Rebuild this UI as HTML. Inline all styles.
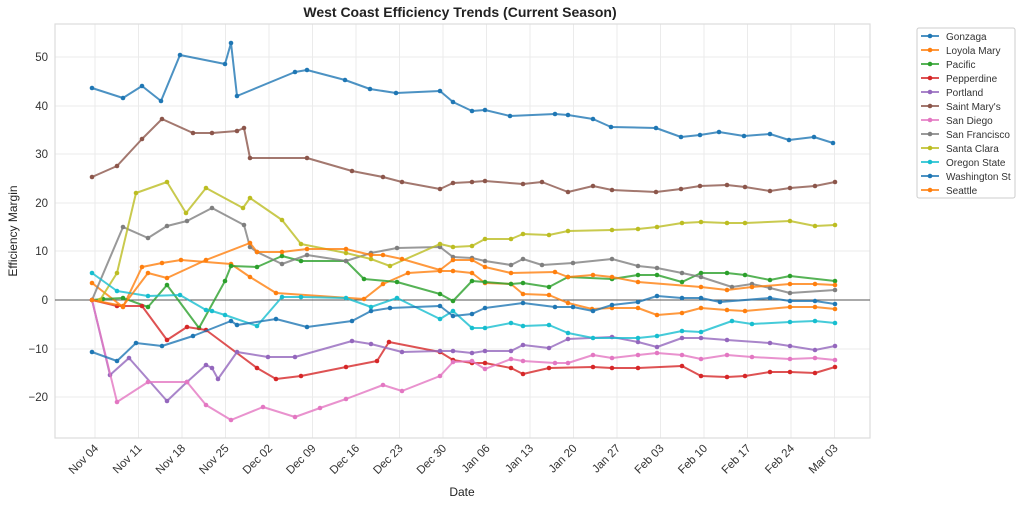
<!DOCTYPE html>
<html><head><meta charset="utf-8"><style>body{margin:0;background:#fff}svg{display:block;font-family:"Liberation Sans","DejaVu Sans",sans-serif}</style></head><body>
<svg width="1024" height="506" viewBox="0 0 1024 506" xmlns="http://www.w3.org/2000/svg">
<defs>
<marker id="m0" markerUnits="userSpaceOnUse" markerWidth="6" markerHeight="6" refX="3" refY="3"><circle cx="3" cy="3" r="2.3" fill="#1f77b4"/></marker>
<marker id="m1" markerUnits="userSpaceOnUse" markerWidth="6" markerHeight="6" refX="3" refY="3"><circle cx="3" cy="3" r="2.3" fill="#ff7f0e"/></marker>
<marker id="m2" markerUnits="userSpaceOnUse" markerWidth="6" markerHeight="6" refX="3" refY="3"><circle cx="3" cy="3" r="2.3" fill="#2ca02c"/></marker>
<marker id="m3" markerUnits="userSpaceOnUse" markerWidth="6" markerHeight="6" refX="3" refY="3"><circle cx="3" cy="3" r="2.3" fill="#d62728"/></marker>
<marker id="m4" markerUnits="userSpaceOnUse" markerWidth="6" markerHeight="6" refX="3" refY="3"><circle cx="3" cy="3" r="2.3" fill="#9467bd"/></marker>
<marker id="m5" markerUnits="userSpaceOnUse" markerWidth="6" markerHeight="6" refX="3" refY="3"><circle cx="3" cy="3" r="2.3" fill="#8c564b"/></marker>
<marker id="m6" markerUnits="userSpaceOnUse" markerWidth="6" markerHeight="6" refX="3" refY="3"><circle cx="3" cy="3" r="2.3" fill="#e377c2"/></marker>
<marker id="m7" markerUnits="userSpaceOnUse" markerWidth="6" markerHeight="6" refX="3" refY="3"><circle cx="3" cy="3" r="2.3" fill="#7f7f7f"/></marker>
<marker id="m8" markerUnits="userSpaceOnUse" markerWidth="6" markerHeight="6" refX="3" refY="3"><circle cx="3" cy="3" r="2.3" fill="#bcbd22"/></marker>
<marker id="m9" markerUnits="userSpaceOnUse" markerWidth="6" markerHeight="6" refX="3" refY="3"><circle cx="3" cy="3" r="2.3" fill="#17becf"/></marker>
</defs>
<rect width="1024" height="506" fill="#fff"/>
<text x="460" y="17" text-anchor="middle" font-size="14" font-weight="bold" fill="#222">West Coast Efficiency Trends (Current Season)</text>
<g stroke="#ebebeb" stroke-width="1">
<line x1="95" y1="24" x2="95" y2="438"/><line x1="138.5" y1="24" x2="138.5" y2="438"/><line x1="182" y1="24" x2="182" y2="438"/><line x1="225.5" y1="24" x2="225.5" y2="438"/><line x1="269" y1="24" x2="269" y2="438"/><line x1="312.5" y1="24" x2="312.5" y2="438"/><line x1="356" y1="24" x2="356" y2="438"/><line x1="399.5" y1="24" x2="399.5" y2="438"/><line x1="443" y1="24" x2="443" y2="438"/><line x1="486.5" y1="24" x2="486.5" y2="438"/><line x1="530" y1="24" x2="530" y2="438"/><line x1="573.5" y1="24" x2="573.5" y2="438"/><line x1="617" y1="24" x2="617" y2="438"/><line x1="660.5" y1="24" x2="660.5" y2="438"/><line x1="704" y1="24" x2="704" y2="438"/><line x1="747.5" y1="24" x2="747.5" y2="438"/><line x1="791" y1="24" x2="791" y2="438"/><line x1="834.5" y1="24" x2="834.5" y2="438"/>
<line x1="55" y1="57" x2="870" y2="57"/><line x1="55" y1="106" x2="870" y2="106"/><line x1="55" y1="154" x2="870" y2="154"/><line x1="55" y1="203" x2="870" y2="203"/><line x1="55" y1="251" x2="870" y2="251"/><line x1="55" y1="349" x2="870" y2="349"/><line x1="55" y1="397" x2="870" y2="397"/>
</g>
<rect x="55" y="24" width="815" height="414" fill="none" stroke="#ddd" stroke-width="1.2"/>
<line x1="55" y1="300" x2="870" y2="300" stroke="#555" stroke-width="1"/>
<g font-size="11.5" fill="#333" text-anchor="end">
<text x="48" y="61">50</text><text x="48" y="110">40</text><text x="48" y="158">30</text><text x="48" y="207">20</text><text x="48" y="255">10</text><text x="48" y="304">0</text><text x="48" y="353">−10</text><text x="48" y="401">−20</text>
</g>
<g font-size="11.5" fill="#333" text-anchor="end">
<text transform="translate(99,449) rotate(-45)">Nov 04</text><text transform="translate(142.5,449) rotate(-45)">Nov 11</text><text transform="translate(186,449) rotate(-45)">Nov 18</text><text transform="translate(229.5,449) rotate(-45)">Nov 25</text><text transform="translate(273,449) rotate(-45)">Dec 02</text><text transform="translate(316.5,449) rotate(-45)">Dec 09</text><text transform="translate(360,449) rotate(-45)">Dec 16</text><text transform="translate(403.5,449) rotate(-45)">Dec 23</text><text transform="translate(447,449) rotate(-45)">Dec 30</text><text transform="translate(490.5,449) rotate(-45)">Jan 06</text><text transform="translate(534,449) rotate(-45)">Jan 13</text><text transform="translate(577.5,449) rotate(-45)">Jan 20</text><text transform="translate(621,449) rotate(-45)">Jan 27</text><text transform="translate(664.5,449) rotate(-45)">Feb 03</text><text transform="translate(708,449) rotate(-45)">Feb 10</text><text transform="translate(751.5,449) rotate(-45)">Feb 17</text><text transform="translate(795,449) rotate(-45)">Feb 24</text><text transform="translate(838.5,449) rotate(-45)">Mar 03</text>
</g>
<text x="462" y="496" text-anchor="middle" font-size="12" fill="#222">Date</text>
<text transform="translate(17,231) rotate(-90)" text-anchor="middle" font-size="12" fill="#222">Efficiency Margin</text>
<g fill="none" stroke-width="2" stroke-opacity="0.8" stroke-linejoin="round">
<polyline style="marker:url(#m0)" stroke="#1f77b4" points="92,88 123,98 142,86 161,101 180,55 225,64 231,43 237,96 295,72 307,70 345,80 370,89 396,93 440,91 453,102 472,111 485,110 510,116 555,114 568,115 593,119 611,127 656,128 681,137 700,135 719,132 744,136 770,134 789,140 814,137 833,143"/>
<polyline style="marker:url(#m1)" stroke="#ff7f0e" points="92,283 123,307 142,267 162,263 181,260 231,264 250,277 276,293 364,299 383,284 408,273 440,271 453,271 472,273 485,283 511,284 523,294 549,295 568,303 592,309 612,308 638,308 657,315 682,313 701,308 727,310 745,311 790,307 815,307 835,309"/>
<polyline style="marker:url(#m2)" stroke="#2ca02c" points="92,300 103,299 123,298 148,307 167,285 199,328 225,281 231,266 257,267 282,256 301,261 346,261 364,279 397,282 440,294 453,301 472,281 485,282 511,284 523,283 549,287 568,277 612,279 638,275 657,275 682,282 701,273 727,273 745,275 770,280 790,276 835,281"/>
<polyline style="marker:url(#m3)" stroke="#d62728" points="92,300 117,306 142,306 167,340 187,327 206,330 257,368 276,379 301,376 346,367 377,361 389,342 440,352 453,360 472,363 485,363 511,368 523,374 549,368 593,367 612,368 638,368 682,366 701,376 727,377 745,376 770,372 790,372 815,373 835,367"/>
<polyline style="marker:url(#m4)" stroke="#9467bd" points="92,300 110,375 129,358 167,401 187,382 206,365 212,368 218,379 237,352 268,357 295,357 352,341 371,344 402,352 440,351 453,351 472,353 485,351 511,351 523,345 549,348 568,339 612,337 638,342 657,347 682,338 701,338 727,340 770,343 790,346 815,350 835,346"/>
<polyline style="marker:url(#m5)" stroke="#8c564b" points="92,177 117,166 142,139 162,119 193,133 212,133 237,131 244,128 250,158 307,158 352,171 383,177 402,182 440,189 453,183 472,182 485,181 523,184 542,182 568,192 593,186 612,190 656,192 681,189 700,186 727,185 745,187 770,191 790,188 815,186 835,182"/>
<polyline style="marker:url(#m6)" stroke="#e377c2" points="92,300 117,402 148,382 187,382 206,405 231,420 263,407 295,417 320,408 346,399 383,385 402,391 440,376 453,362 472,361 485,369 511,359 523,361 555,363 568,363 593,355 612,358 638,355 657,353 682,355 701,359 727,355 752,357 790,359 815,358 835,360"/>
<polyline style="marker:url(#m7)" stroke="#7f7f7f" points="92,300 123,227 148,238 167,226 187,221 212,208 244,225 250,247 257,252 282,264 307,255 346,261 371,253 397,248 440,247 453,257 472,258 485,261 511,265 523,259 542,265 573,263 612,259 638,266 657,268 682,273 701,277 732,287 752,284 770,288 790,293 835,290"/>
<polyline style="marker:url(#m8)" stroke="#bcbd22" points="100,300 117,273 136,193 167,182 186,213 206,188 243,208 250,198 282,220 301,244 346,253 371,259 390,266 440,244 453,247 472,246 485,239 511,239 523,234 549,235 568,231 612,230 638,229 657,227 682,223 701,222 727,223 745,223 790,221 815,226 835,225"/>
<polyline style="marker:url(#m9)" stroke="#17becf" points="92,273 117,291 148,296 180,295 206,310 212,311 225,315 257,326 282,297 301,297 346,298 371,307 397,298 440,319 453,311 472,328 485,328 511,323 523,326 549,325 568,333 593,338 638,338 657,336 682,331 701,332 732,321 752,324 790,322 815,321 835,323"/>
<polyline style="marker:url(#m0)" stroke="#1f77b4" points="92,352 117,361 136,343 162,346 193,336 231,321 237,325 276,319 307,327 352,321 371,311 390,308 440,306 453,316 472,314 485,308 523,303 555,307 573,307 593,311 612,305 638,302 657,296 682,298 701,298 720,302 770,298 790,301 815,301 835,304"/>
<polyline style="marker:url(#m1)" stroke="#ff7f0e" points="92,300 123,306 148,273 167,278 206,260 250,243 257,252 282,252 307,249 346,249 371,255 383,255 402,259 440,270 453,260 472,260 485,267 511,273 555,272 568,277 593,275 612,277 638,282 701,287 727,290 752,287 790,284 815,284 835,285"/>
</g>
<g font-size="10" fill="#333">
<rect x="917" y="28" width="98" height="170" fill="#fff" stroke="#ccc" rx="2"/>
<g stroke-width="2" stroke-opacity="0.8">
<line x1="921" y1="36" x2="939" y2="36" stroke="#1f77b4"/><line x1="921" y1="50" x2="939" y2="50" stroke="#ff7f0e"/><line x1="921" y1="64" x2="939" y2="64" stroke="#2ca02c"/><line x1="921" y1="78" x2="939" y2="78" stroke="#d62728"/><line x1="921" y1="92" x2="939" y2="92" stroke="#9467bd"/><line x1="921" y1="106" x2="939" y2="106" stroke="#8c564b"/><line x1="921" y1="120" x2="939" y2="120" stroke="#e377c2"/><line x1="921" y1="134" x2="939" y2="134" stroke="#7f7f7f"/><line x1="921" y1="148" x2="939" y2="148" stroke="#bcbd22"/><line x1="921" y1="162" x2="939" y2="162" stroke="#17becf"/><line x1="921" y1="176" x2="939" y2="176" stroke="#1f77b4"/><line x1="921" y1="190" x2="939" y2="190" stroke="#ff7f0e"/>
</g>
<g>
<circle cx="930" cy="36" r="2.3" fill="#1f77b4"/><circle cx="930" cy="50" r="2.3" fill="#ff7f0e"/><circle cx="930" cy="64" r="2.3" fill="#2ca02c"/><circle cx="930" cy="78" r="2.3" fill="#d62728"/><circle cx="930" cy="92" r="2.3" fill="#9467bd"/><circle cx="930" cy="106" r="2.3" fill="#8c564b"/><circle cx="930" cy="120" r="2.3" fill="#e377c2"/><circle cx="930" cy="134" r="2.3" fill="#7f7f7f"/><circle cx="930" cy="148" r="2.3" fill="#bcbd22"/><circle cx="930" cy="162" r="2.3" fill="#17becf"/><circle cx="930" cy="176" r="2.3" fill="#1f77b4"/><circle cx="930" cy="190" r="2.3" fill="#ff7f0e"/>
</g>
<text x="946" y="40">Gonzaga</text><text x="946" y="54">Loyola Mary</text><text x="946" y="68">Pacific</text><text x="946" y="82">Pepperdine</text><text x="946" y="96">Portland</text><text x="946" y="110">Saint Mary's</text><text x="946" y="124">San Diego</text><text x="946" y="138">San Francisco</text><text x="946" y="152">Santa Clara</text><text x="946" y="166">Oregon State</text><text x="946" y="180">Washington St</text><text x="946" y="194">Seattle</text>
</g>
</svg>
</body></html>
